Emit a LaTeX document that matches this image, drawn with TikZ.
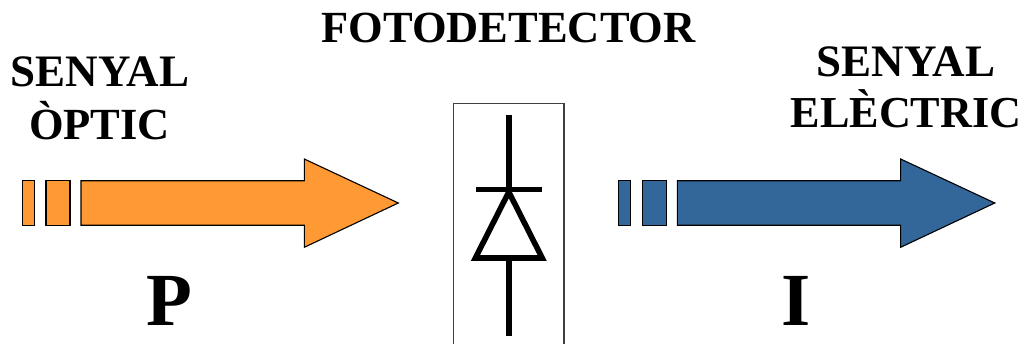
\documentclass[tikz,border=0pt]{standalone}
\usepackage{fontspec}
\setmainfont{Liberation Serif}
\definecolor{optic}{RGB}{255,153,51}
\definecolor{elec}{RGB}{51,102,153}
\tikzset{
  x=1pt,y=-1pt,
  lbl/.style={font=\fontsize{44.5}{46}\bfseries\selectfont,inner sep=0pt,anchor=base},
  lblw/.style={font=\fontsize{45}{46}\bfseries\selectfont,inner sep=0pt,anchor=base},
  lbln/.style={font=\fontsize{44.2}{46}\bfseries\selectfont,inner sep=0pt,anchor=base},
  big/.style={font=\fontsize{75}{76}\bfseries\selectfont,inner sep=0pt,anchor=base},
  sig/.style={draw=black,line width=1.1pt,line join=miter},
  diode/.style={draw=black,line width=5.6pt,line join=miter,miter limit=10},
  frame/.style={draw=black!75,line width=1.2pt}
}
\begin{document}
\begin{tikzpicture}
\useasboundingbox (0,0) rectangle (1024,344);
\fill[white] (0,0) rectangle (1024,344);
% optical signal
\draw[sig,fill=optic] (22.5,180.8) rectangle (34.6,225.3);
\draw[sig,fill=optic] (46,180.8) rectangle (70,225.3);
\draw[sig,fill=optic] (81,180.8) -- (304.3,180.8) -- (304.3,159) -- (398.3,203) -- (304.3,247.3) -- (304.3,225.3) -- (81,225.3) -- cycle;
% electrical signal
\draw[sig,fill=elec] (618.7,180.8) rectangle (630.8,225.3);
\draw[sig,fill=elec] (642.3,180.8) rectangle (666.5,225.3);
\draw[sig,fill=elec] (677.3,180.8) -- (900.6,180.8) -- (900.6,159) -- (994.8,203) -- (900.6,247.3) -- (900.6,225.3) -- (677.3,225.3) -- cycle;
% detector box, open at the bottom
\draw[frame] (453.7,346) -- (453.7,103.8) -- (564,103.8) -- (564,346);
% diode symbol
\coordinate (dtop) at (508.7,115);
\coordinate (dbar) at (508.7,189.7);
\coordinate (dbase) at (508.7,258);
\coordinate (dbot) at (508.7,335.7);
\draw[diode] (dtop) -- (dbar);
\draw[diode] (476,189.7) -- (542,189.7);
\draw[diode] (dbase) -- (dbot);
\draw[diode] (508.8,192) -- (475.4,258) -- (542.2,258) -- cycle;
% labels
\node[lbl] (title) at (508.5,43) {FOTODETECTOR};
\node[lblw] (opt1) at (99.8,87) {SENYAL};
\node[lbl] (opt2) at (99.6,140) {ÒPTIC};
\node[lblw] (ele1) at (906,77) {SENYAL};
\node[lbln] (ele2) at (906,128) {ELÈCTRIC};
\node[big] (pw) at (169.5,325) {P};
\node[big] (iw) at (796,325) {I};
\end{tikzpicture}
\end{document}
